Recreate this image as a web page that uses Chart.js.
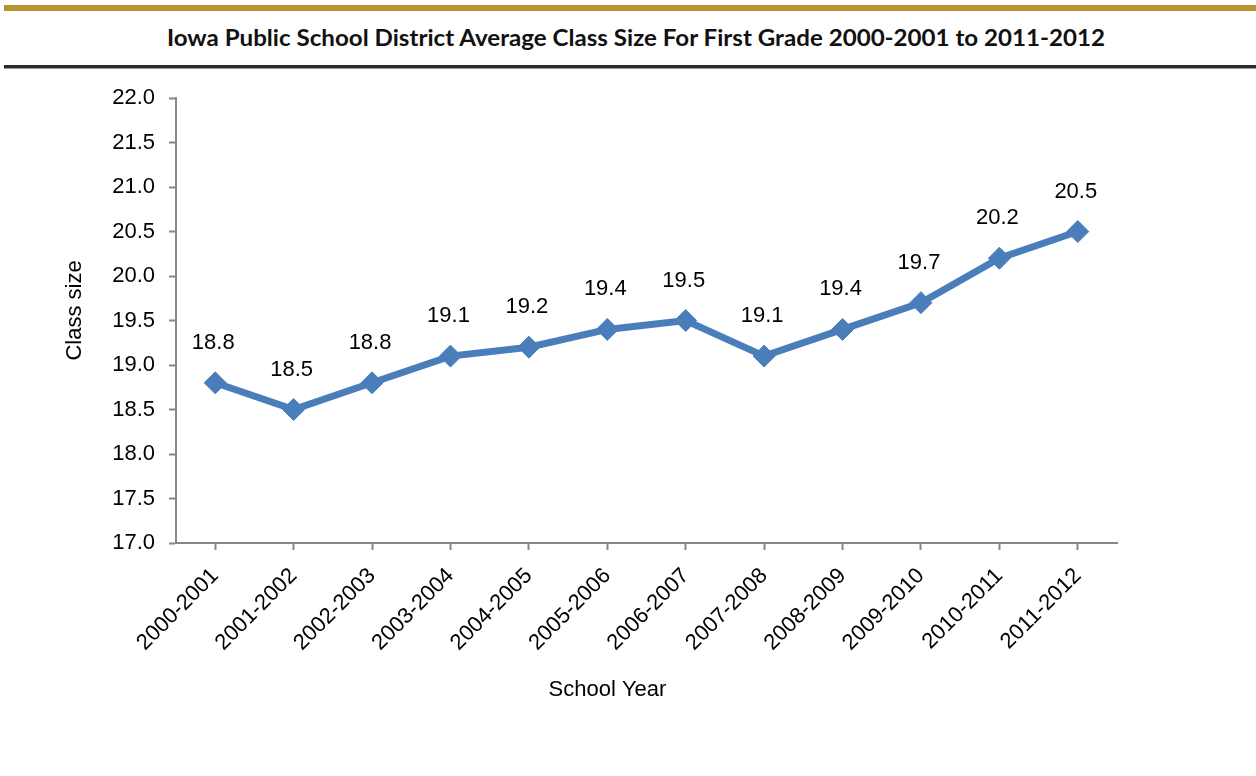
<!DOCTYPE html>
<html>
<head>
<meta charset="utf-8">
<script src="https://cdn.jsdelivr.net/npm/chart.js@4"></script>
<style>
  body { margin: 0; background: #fff; }
  #wrap { position: relative; width: 1256px; height: 776px; overflow: hidden; }
  #goldBar { position: absolute; left: 4px; top: 5px; width: 1252px; height: 6px; background: #B8922F; }
  #titulo { position: absolute; left: 0; top: 24px; width: 1272px; text-align: center;
    font-family: Lato, "Open Sans", sans-serif; font-weight: bold; font-size: 22px; color: #111;
    transform: scaleX(1.097); transform-origin: 636px 0; }
  #darkBar { position: absolute; left: 4px; top: 65px; width: 1252px; height: 3px; background: #2b2b2b;
    border-bottom: 1px solid #999; }
  #grafico { position: absolute; left: 0; top: 0; }
</style>
</head>
<body>
<div id="wrap">
  <div id="goldBar"></div>
  <div id="titulo">Iowa Public School District Average Class Size For First Grade 2000-2001 to 2011-2012</div>
  <div id="darkBar"></div>
  <canvas id="grafico" width="1256" height="776"></canvas>
</div>
<script>
// dados
const anosLetivos = ["2000-2001", "2001-2002", "2002-2003", "2003-2004", "2004-2005", "2005-2006",
  "2006-2007", "2007-2008", "2008-2009", "2009-2010", "2010-2011", "2011-2012"];
const tamanhoTurma = [18.8, 18.5, 18.8, 19.1, 19.2, 19.4, 19.5, 19.1, 19.4, 19.7, 20.2, 20.5];
const yMin = 17.0;
const yMax = 22.0;
const yPasso = 0.5;
const tituloX = 'School Year';
const tituloY = 'Class size';

const azul = '#4A7EBB';
const cinzaEixo = '#878787';
const fonte = 'Arial, "Liberation Sans", sans-serif';

// rotulos em cima dos pontos (sem plugin datalabels) + titulos dos eixos
// os titulos no original nao ficam centrados no grafico, por isso desenho aqui
const rotulosPlugin = {
  id: 'rotulos',
  afterDatasetsDraw(chart) {
    const ctx = chart.ctx;
    const meta = chart.getDatasetMeta(0);
    const area = chart.chartArea;
    ctx.save();
    ctx.font = '22px ' + fonte;
    ctx.fillStyle = '#000';
    ctx.textAlign = 'center';
    ctx.textBaseline = 'middle';
    meta.data.forEach((pt, i) => {
      ctx.fillText(tamanhoTurma[i].toFixed(1), pt.x - 2, pt.y - 40);
    });

    ctx.fillText(tituloX, (area.left + area.right) / 2 - 39, 690);

    ctx.translate(75, (area.top + area.bottom) / 2 - 10);
    ctx.rotate(-Math.PI / 2);
    ctx.fillText(tituloY, 0, 0);
    ctx.restore();
  }
};

const ctx = document.getElementById('grafico').getContext('2d');

const grafico = new Chart(ctx, {
  type: 'line',
  data: {
    labels: anosLetivos,
    datasets: [{
      data: tamanhoTurma,
      borderColor: azul,
      backgroundColor: azul,
      borderWidth: 7,
      pointStyle: 'rectRot',
      pointRadius: 11,
      pointBorderWidth: 1,
      pointBorderColor: azul,
      tension: 0
    }]
  },
  options: {
    responsive: false,
    animation: false,
    layout: {
      padding: { left: 0, top: 98, right: 139, bottom: 0 }
    },
    scales: {
      x: {
        offset: true,
        afterFit: (s) => { s.height = 233; },
        grid: {
          drawOnChartArea: false,
          color: cinzaEixo,
          tickLength: 7,
          tickWidth: 2
        },
        border: { color: cinzaEixo, width: 2 },
        ticks: {
          maxRotation: 45,
          minRotation: 45,
          color: '#000',
          padding: 13,
          font: { family: fonte, size: 22 }
        }
      },
      y: {
        min: yMin,
        max: yMax,
        afterFit: (s) => { s.width = 176; },
        grid: {
          drawOnChartArea: false,
          color: cinzaEixo,
          tickLength: 7,
          tickWidth: 2
        },
        border: { color: cinzaEixo, width: 2 },
        ticks: {
          stepSize: yPasso,
          color: '#000',
          padding: 14,
          font: { family: fonte, size: 22 },
          callback: (v) => Number(v).toFixed(1)
        }
      }
    },
    plugins: {
      legend: { display: false },
      tooltip: { enabled: false }
    }
  },
  plugins: [rotulosPlugin]
});
</script>
</body>
</html>
